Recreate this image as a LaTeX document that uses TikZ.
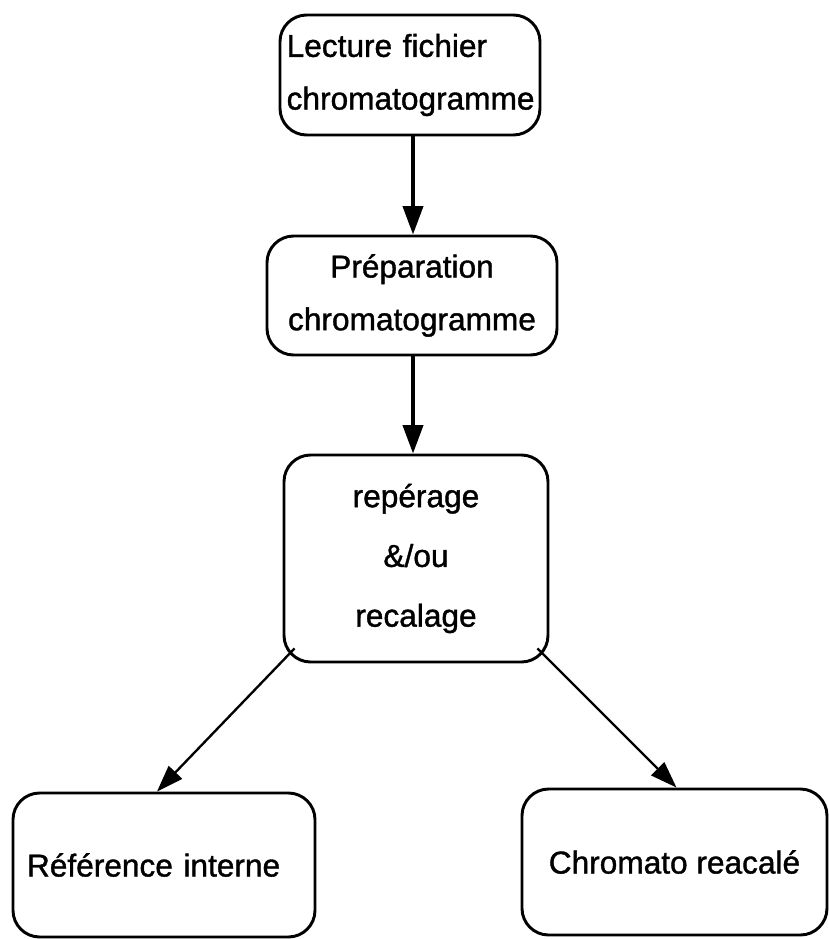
\documentclass[tikz,border=0pt]{standalone}
\usepackage{fontspec}
\setmainfont[FakeBold=1.2,AutoFakeBold=1.2]{Liberation Sans}
\usetikzlibrary{arrows.meta,calc}
\begin{document}
\begin{tikzpicture}[x=0.03cm,y=-0.03cm,
  etape/.style={draw,line width=2.5pt,rounded corners=0.8cm,inner sep=0pt,
    font=\fontsize{27}{45}\selectfont\bfseries},
  fleche/.style={line width=3.2pt,-{Triangle[length=0.85cm,width=0.6cm]}},
  diag/.style={line width=2pt,-{Triangle[length=0.8cm,width=0.55cm]}}]
% Fix the margins
\useasboundingbox (0,0) rectangle (829,939);

% Boxes
\node[etape,minimum width=7.8cm,minimum height=3.6cm,align=left,text width=7.4cm]
  (lecture) at (410,75) {Lecture fichier\\chromatogramme};
\node[etape,minimum width=8.7cm,minimum height=3.57cm,align=center]
  (prepa) at (412,295.5) {Préparation\\chromatogramme};
\node[etape,minimum width=7.92cm,minimum height=6.21cm,align=center]
  (recal) at (416,558.5) {repérage\\[6pt]\&/ou\\[6pt]recalage};
\node[etape,minimum width=9.06cm,minimum height=4.32cm,align=left,text width=8.22cm]
  (refint) at (164,865) {Référence interne};
\node[etape,minimum width=9.15cm,minimum height=4.38cm]
  (chrom) at (674.5,862) {Chromato reacalé};

% Arrows
\draw[fleche] ($(lecture.south)+(3,0)$) -- ($(lecture.south |- prepa.north)+(3,0)$);
\draw[fleche] ($(prepa.south)+(1,0)$) -- ($(prepa.south |- recal.north)+(1,0)$);
\draw[diag] ($(recal.south west)+(12,-15)$) -- ($(refint.north)+(-7,0)$);
\draw[diag] ($(recal.south east)+(-12,-15)$) -- ($(chrom.north)+(2,0)$);
\end{tikzpicture}
\end{document}
